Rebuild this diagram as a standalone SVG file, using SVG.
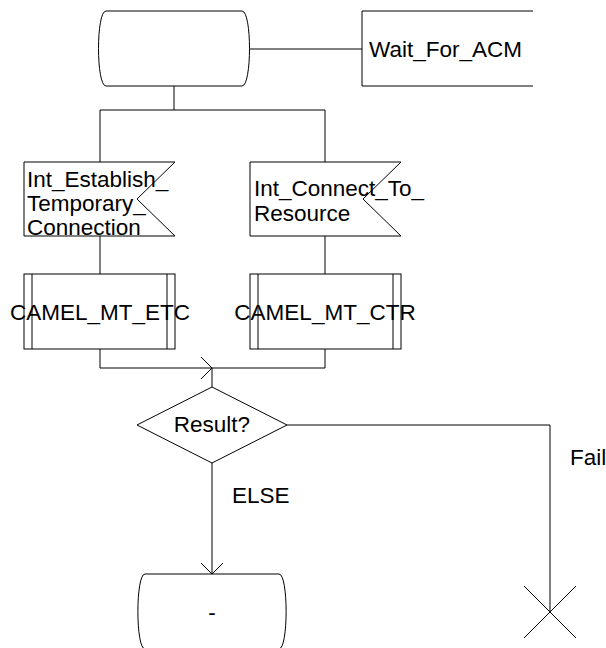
<svg xmlns="http://www.w3.org/2000/svg" width="606" height="648" viewBox="0 0 606 648">
<style>
.s{fill:#fff;stroke:#000;stroke-width:1}
.l{fill:none;stroke:#000;stroke-width:1}
text{font-family:"Liberation Sans",Arial,sans-serif;font-size:22.5px;fill:#000}
</style>
<rect width="606" height="648" fill="#fff"/>
<g id="connectors" class="l">
<path d="M174,86V110M100,110H325M100,110V162M325,110V162"/>
<path d="M249,49H362"/>
<path d="M100,236V274M325,236V274"/>
<path d="M100,349V368H325V349"/>
<path d="M201,357L212,368L201,379"/>
<path d="M212,368V387"/>
<path d="M287,425H550V612"/>
<path d="M212,463V574"/>
<path d="M201,563L212,574L223,563"/>
</g>
<g id="start_state">
<path class="s" d="M106,11H242C252,11 252,86 242,86H106C96,86 96,11 106,11Z"/>
</g>
<g id="wait_for_acm">
<path class="l" d="M533,11H362V86H533"/>
<text x="369" y="57">Wait_For_ACM</text>
</g>
<g id="input_etc">
<polygon class="s" points="24,162 175,162 137,199 175,236 24,236"/>
<text x="27" y="187">Int_Establish_</text>
<text x="27" y="211">Temporary_</text>
<text x="27" y="235">Connection</text>
</g>
<g id="input_ctr">
<polygon class="s" points="250,162 401,162 363,199 401,236 250,236"/>
<text x="254" y="196">Int_Connect_To_</text>
<text x="254" y="221">Resource</text>
</g>
<g id="proc_etc">
<rect class="s" x="24" y="274" width="151" height="75"/>
<path class="l" d="M32,274V349M167,274V349"/>
<text x="100" y="320" text-anchor="middle">CAMEL_MT_ETC</text>
</g>
<g id="proc_ctr">
<rect class="s" x="250" y="274" width="151" height="75"/>
<path class="l" d="M258,274V349M393,274V349"/>
<text x="325" y="320" text-anchor="middle">CAMEL_MT_CTR</text>
</g>
<g id="decision">
<polygon class="s" points="212,387 287,425 212,463 137,425"/>
<text x="212" y="432" text-anchor="middle">Result?</text>
</g>
<text x="232" y="503">ELSE</text>
<text x="570" y="465">Fail</text>
<g id="end_state">
<path class="s" d="M145,574H279C288.5,574 288.5,649 279,649H145C135.5,649 135.5,574 145,574Z"/>
<text x="212" y="620" text-anchor="middle">-</text>
</g>
<g id="stop" class="l">
<path d="M524,586L576,638M576,586L524,638"/>
</g>
</svg>
